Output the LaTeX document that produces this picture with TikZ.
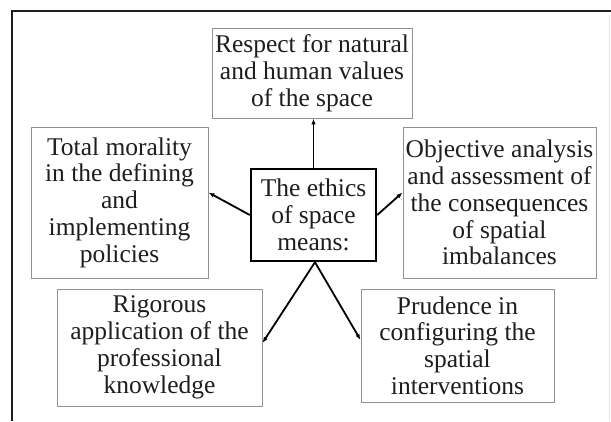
\documentclass[tikz,border=0pt]{standalone}
\usepackage{fontspec}
\setmainfont{Liberation Serif}
\usetikzlibrary{arrows.meta}
\definecolor{boxgray}{RGB}{145,145,145}
\definecolor{inkgray}{RGB}{30,30,30}

\begin{document}
\begin{tikzpicture}[x=1pt,y=-1pt,
  item/.style={draw=boxgray,line width=0.9pt,inner sep=0pt,align=center,
    text=inkgray,font=\fontsize{25.5}{26.8}\selectfont},
  hub/.style={item,draw=black,line width=2.4pt},
  link/.style={-{Latex[length=6pt,width=4.5pt]},line width=1.8pt}]
\useasboundingbox (0,0) rectangle (611,421);
%\draw[help lines] (0,0) grid[step=50] (611,421);
\draw[inkgray,line width=1.3pt] (611,11) -- (12,11) -- (12,421);
\draw[black!10,line width=0.8pt] (609,14) -- (609,421);
\node[hub,minimum width=125pt,minimum height=92pt] (ethics) at (313.5,215)
  {The ethics\\of space\\means:};
\node[item,minimum width=200pt,minimum height=90pt] (respect) at (312,73)
  {Respect for natural\\and human values\\of the space};
\node[item,minimum width=177pt,minimum height=151pt] (morality) at (119.5,202.5)
  {Total morality\\in the defining\\and\\implementing\\policies};
\node[item,minimum width=193pt,minimum height=151pt] (analysis) at (499.5,202.5)
  {Objective analysis\\and assessment of\\the consequences\\of spatial\\imbalances};
\node[item,minimum width=205pt,minimum height=117pt] (rigour) at (159.5,347.5)
  {Rigorous\\application of the\\professional\\knowledge};
\node[item,minimum width=193pt,minimum height=113pt] (prudence) at (457.5,345.5)
  {Prudence in\\configuring the\\spatial\\interventions};
\draw[link] (ethics.north) -- (ethics.north |- respect.south);
\draw[link] (ethics.west) -- ([yshift=10pt]morality.east);
\draw[link] (ethics.east) -- ([yshift=10pt]analysis.west);
\draw[link] ([xshift=1.5pt]ethics.south) -- ([yshift=4.5pt]rigour.east);
\draw[link] ([xshift=1.5pt]ethics.south) -- ([yshift=5.5pt]prudence.west);
\end{tikzpicture}
\end{document}
